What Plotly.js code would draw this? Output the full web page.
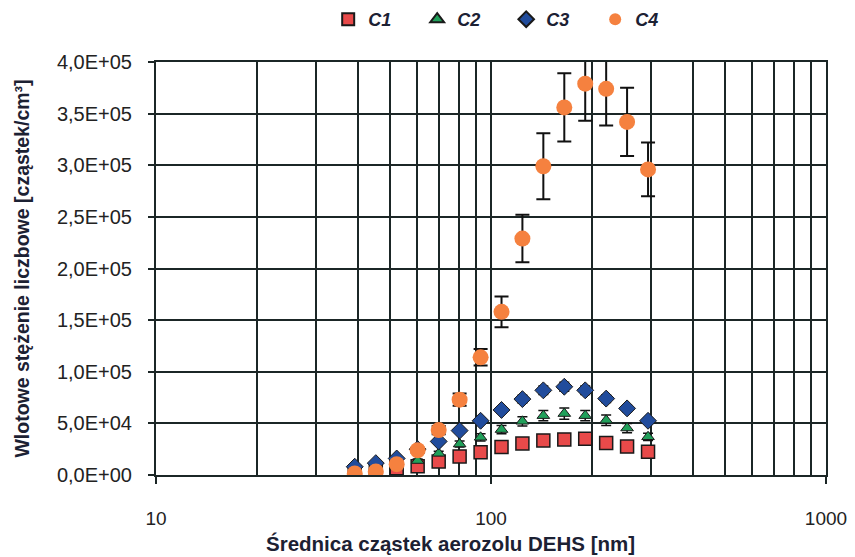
<!DOCTYPE html>
<html>
<head>
<meta charset="utf-8">
<script src="https://cdn.plot.ly/plotly-3.0.1.min.js"></script>
<style>
  html, body { margin: 0; padding: 0; background: #ffffff; }
  #chart { width: 855px; height: 557px; }
</style>
</head>
<body>
<div id="chart"></div>
<script>
// Particle diameter (nm) for each size channel
const diameters = [39.2, 45.3, 52.3, 60.4, 69.8, 80.6, 93.1, 107.5, 124.1, 143.3, 165.5, 191.1, 220.7, 254.8, 294.3];

// Inlet number concentration [particles/cm3] for each series
const c1 = [2500, 3500, 6500, 8500, 13000, 18000, 22000, 27000, 30500, 33500, 34500, 35000, 31000, 27500, 22500];
const c2 = [5000, 7000, 10000, 14000, 21000, 30000, 36500, 44000, 52000, 57500, 59500, 57500, 53000, 45500, 37000];
const c3 = [8000, 11500, 16000, 25000, 32500, 43000, 52500, 63000, 73500, 82000, 85500, 82000, 74000, 64500, 52500];
const c4 = [1500, 3500, 10500, 24000, 43500, 73000, 114000, 158000, 229000, 299000, 356000, 379000, 374000, 342000, 296000];

// Standard deviations
const c1Err = [150, 200, 300, 400, 600, 900, 1100, 1400, 1500, 1700, 1700, 1700, 1500, 1400, 1100];
const c2Err = [500, 700, 1000, 1400, 2000, 3000, 3500, 4000, 4500, 5000, 5500, 5000, 5000, 4500, 3500];
const c3Err = [400, 600, 800, 1200, 1600, 2200, 2600, 3200, 3700, 4100, 4300, 4100, 3700, 3200, 2600];
const c4Err = [500, 800, 1500, 2500, 4000, 6000, 8000, 15000, 23000, 32000, 33000, 36000, 35500, 33000, 26000];

// Axis ticks
const yTickVals = [0, 50000, 100000, 150000, 200000, 250000, 300000, 350000, 400000];
const yTickText = ['0,0E+00', '5,0E+04', '1,0E+05', '1,5E+05', '2,0E+05', '2,5E+05', '3,0E+05', '3,5E+05', '4,0E+05'];
const xTickVals = [10, 100, 1000];
const xTickText = ['10', '100', '1000'];
const xMinorVals = [20, 30, 40, 50, 60, 70, 80, 90, 200, 300, 400, 500, 600, 700, 800, 900];

const xTitle = 'Średnica cząstek aerozolu DEHS [nm]';
const yTitle = 'Wlotowe stężenie liczbowe [cząstek/cm³]';

const gridColor = '#1b2626';
const textColor = '#1c2133';
const fontFamily = '"Liberation Sans", Arial, sans-serif';

function series(name, y, err, symbol, color, size, lineW, capW, capT) {
  return {
    type: 'scatter',
    mode: 'markers',
    name: name,
    x: diameters,
    y: y,
    error_y: { type: 'data', array: err, visible: true, color: '#111111', thickness: capT, width: capW },
    marker: { symbol: symbol, color: color, size: size, line: { color: '#1a1a1a', width: lineW } },
    cliponaxis: true
  };
}

const traces = [
  series('C1', c1, c1Err, 'square', '#e84a4a', 13, 1.5, 5, 1.5),
  series('C2', c2, c2Err, 'triangle-up', '#20a05a', 11, 1, 5, 1.5),
  series('C3', c3, c3Err, 'diamond', '#214c9c', 13, 1, 5, 1.5),
  series('C4', c4, c4Err, 'circle', '#f5813f', 16, 0, 7, 2)
];

const layout = {
  width: 855,
  height: 557,
  paper_bgcolor: '#ffffff',
  plot_bgcolor: '#ffffff',
  margin: { l: 156, r: 29, t: 62, b: 82 },
  font: { family: fontFamily, color: '#222222', size: 15 },
  showlegend: true,
  legend: {
    orientation: 'h',
    x: 0.257, xanchor: 'left',
    yref: 'container',
    y: 0.965, yanchor: 'middle',
    entrywidth: 44, entrywidthmode: 'pixels',
    itemsizing: 'constant',
    font: { family: fontFamily, size: 18, color: textColor, weight: 'bold', style: 'italic' },
    bgcolor: 'rgba(0,0,0,0)'
  },
  xaxis: {
    type: 'log',
    range: [1, 3],
    tickmode: 'array',
    tickvals: xTickVals,
    ticktext: xTickText,
    ticks: 'outside', ticklen: 7, tickwidth: 2, tickcolor: gridColor,
    ticklabelstandoff: 18,
    showgrid: true, gridcolor: gridColor, gridwidth: 2,
    minor: { tickmode: 'array', tickvals: xMinorVals, showgrid: true, gridcolor: gridColor, gridwidth: 2, ticks: '' },
    showline: true, linecolor: gridColor, linewidth: 2, mirror: true,
    zeroline: false,
    tickfont: { family: fontFamily, size: 19, color: '#222222' }
  },
  yaxis: {
    range: [0, 400000],
    tickmode: 'array',
    tickvals: yTickVals,
    ticktext: yTickText,
    ticks: 'outside', ticklen: 6, tickwidth: 2, tickcolor: gridColor,
    ticklabelstandoff: 12,
    showgrid: true, gridcolor: gridColor, gridwidth: 2,
    showline: true, linecolor: gridColor, linewidth: 2, mirror: true,
    zeroline: false,
    tickfont: { family: fontFamily, size: 20, color: '#222222' },
    title: { text: yTitle, font: { family: fontFamily, size: 19.5, color: textColor, weight: 'bold' }, standoff: 22 }
  },
  annotations: [{
    text: xTitle,
    xref: 'paper', yref: 'paper',
    x: 0.44, y: -0.167,
    xanchor: 'center', yanchor: 'middle',
    showarrow: false,
    font: { family: fontFamily, size: 20.5, color: textColor, weight: 'bold' }
  }]
};

Plotly.newPlot('chart', traces, layout, { displayModeBar: false, staticPlot: true });
</script>
</body>
</html>
